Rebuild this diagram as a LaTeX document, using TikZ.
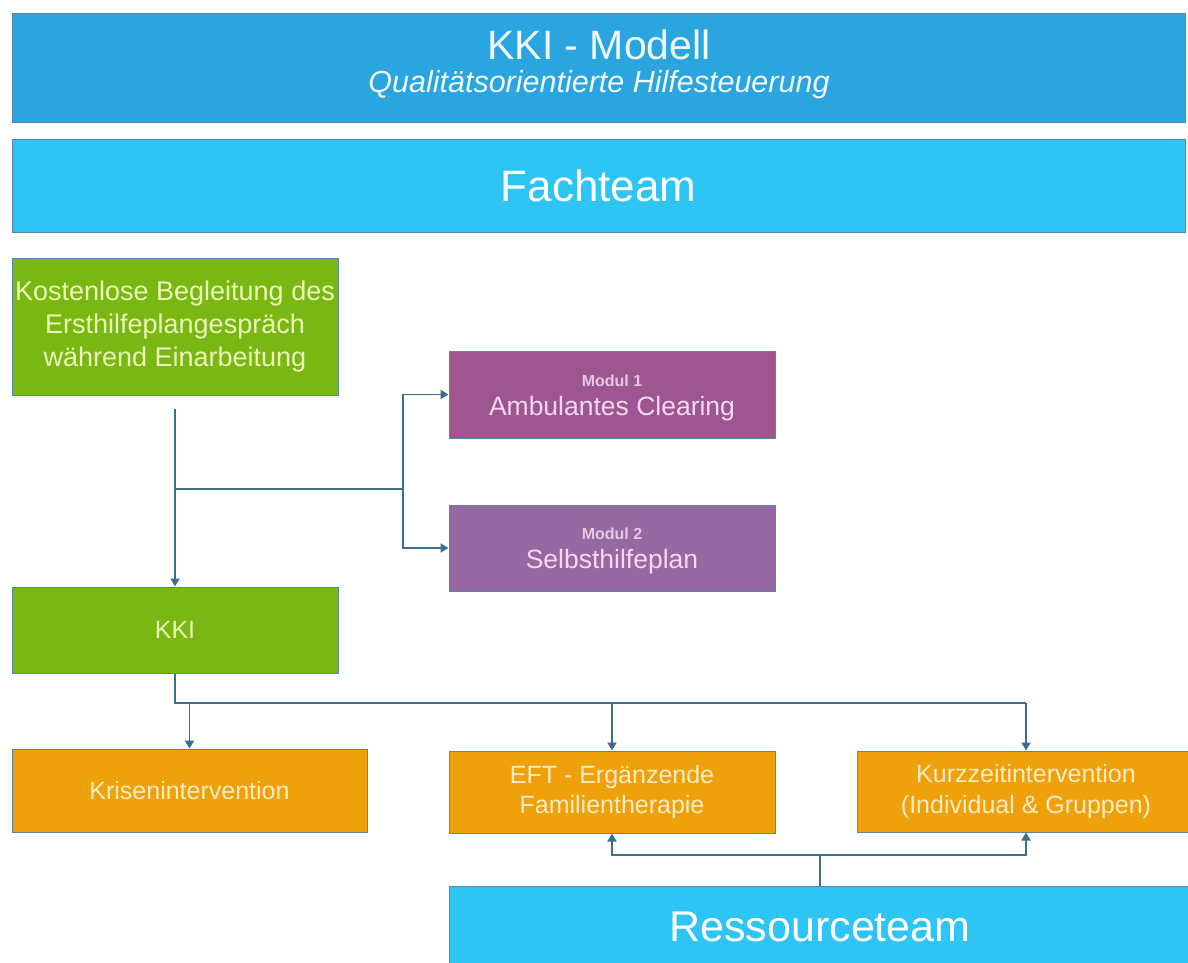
\documentclass[tikz,border=0pt]{standalone}
\usepackage{fontspec}
\setmainfont{Liberation Sans}
\usetikzlibrary{arrows.meta}
\definecolor{titleblue}{HTML}{2AA5DF}
\definecolor{lightblue}{HTML}{2EC5F5}
\definecolor{kgreen}{HTML}{79B713}
\definecolor{purpA}{HTML}{9E5690}
\definecolor{purpB}{HTML}{9669A2}
\definecolor{korange}{HTML}{EFA10B}
\definecolor{boxline}{HTML}{5B87A6}
\definecolor{connc}{HTML}{3C6E8E}
\definecolor{txtblue}{HTML}{EEF8FD}
\definecolor{txtgreen}{HTML}{ECF6B8}
\definecolor{txtpurp}{HTML}{F6D8F0}
\definecolor{txtpurpsmall}{HTML}{E6C8E0}
\definecolor{txtorange}{HTML}{FDEBC2}
\tikzset{
  box/.style={draw=boxline, line width=1pt, rectangle, inner sep=0pt, align=center},
  line/.style={draw=connc, line width=1.8pt},
  conn/.style={draw=connc, line width=1.8pt, -{Triangle[length=8pt,width=9pt]}},
  gtxt/.style={text=txtgreen, font=\fontsize{27}{33}\selectfont},
  otxt/.style={text=txtorange, font=\fontsize{25}{30.5}\selectfont},
}
\begin{document}
\begin{tikzpicture}[x=1pt,y=-1pt]
\useasboundingbox (0,0) rectangle (1188,962);
\fill[white] (0,0) rectangle (1188,962);
% header bars
\node[box, fill=titleblue, minimum width=1173pt, minimum height=109pt] (title) at (598.5,67.5) {};
\node[anchor=base, text=txtblue, font=\fontsize{41}{41}\selectfont] (ttl1) at (599,59) {KKI - Modell};
\node[anchor=base, text=txtblue, font=\fontsize{30.5}{30}\selectfont\itshape] (ttl2) at (599,92) {Qualitätsorientierte Hilfesteuerung};
\node[box, fill=lightblue, minimum width=1173pt, minimum height=93pt, text=white, font=\fontsize{44}{44}\selectfont] (fach) at (598.5,185.5) {Fachteam};
% green boxes
\node[box, fill=kgreen, minimum width=326pt, minimum height=137pt, gtxt] (kost) at (175,326.5) {Kostenlose Begleitung des\\Ersthilfeplangespräch\\während Einarbeitung};
\node[box, fill=kgreen, minimum width=326pt, minimum height=86pt, gtxt, font=\fontsize{25}{30}\selectfont] (kki) at (175,630) {KKI};
% purple boxes
\node[box, fill=purpA, minimum width=326pt, minimum height=87pt] (mod1) at (612,394.5) {};
\node[anchor=base, text=txtpurpsmall, font=\fontsize{16}{16}\selectfont\bfseries] (m1a) at (612,386) {Modul 1};
\node[anchor=base, text=txtpurp, font=\fontsize{26.5}{27}\selectfont] (m1b) at (612,415) {Ambulantes Clearing};
\node[box, fill=purpB, minimum width=326pt, minimum height=86pt] (mod2) at (612,548) {};
\node[anchor=base, text=txtpurpsmall, font=\fontsize{16}{16}\selectfont\bfseries] (m2a) at (612,539.5) {Modul 2};
\node[anchor=base, text=txtpurp, font=\fontsize{26.5}{27}\selectfont] (m2b) at (612,568.5) {Selbsthilfeplan};
% orange boxes
\node[box, fill=korange, minimum width=355pt, minimum height=83pt, otxt] (kris) at (189.5,790.5) {Krisenintervention};
\node[box, fill=korange, minimum width=326pt, minimum height=82pt, otxt] (eft) at (612,792) {EFT - Ergänzende\\Familientherapie};
\node[box, fill=korange, minimum width=338pt, minimum height=81pt, otxt] (kurz) at (1026,791.5) {Kurzzeitintervention\\(Individual \& Gruppen)};
% resource team
\node[box, fill=lightblue, minimum width=742pt, minimum height=82pt, text=white, font=\fontsize{43}{43}\selectfont] (ress) at (820,927) {Ressourceteam};
% connectors
\draw[conn] ([yshift=-13pt]kost.south) -- (kki.north);
\coordinate (j1) at (175,489);
\coordinate (j2) at (403,489);
\draw[line] (j1) -- (j2);
\draw[conn] (j2) |- (mod1.west);
\draw[conn] (j2) |- (mod2.west);
\coordinate (k0) at (175,703);
\coordinate (k1) at (1026,703);
\draw[line] (kki.south) -- (k0) -- (k1);
\draw[conn] (kris.north |- k0) -- (kris.north);
\draw[conn] (eft.north |- k0) -- (eft.north);
\draw[conn] (k1) -- (kurz.north);
\coordinate (r0) at (820,855);
\draw[line] (ress.north) -- (r0);
\draw[conn] (r0) -| (eft.south);
\draw[conn] (r0) -| (kurz.south);
\end{tikzpicture}
\end{document}
